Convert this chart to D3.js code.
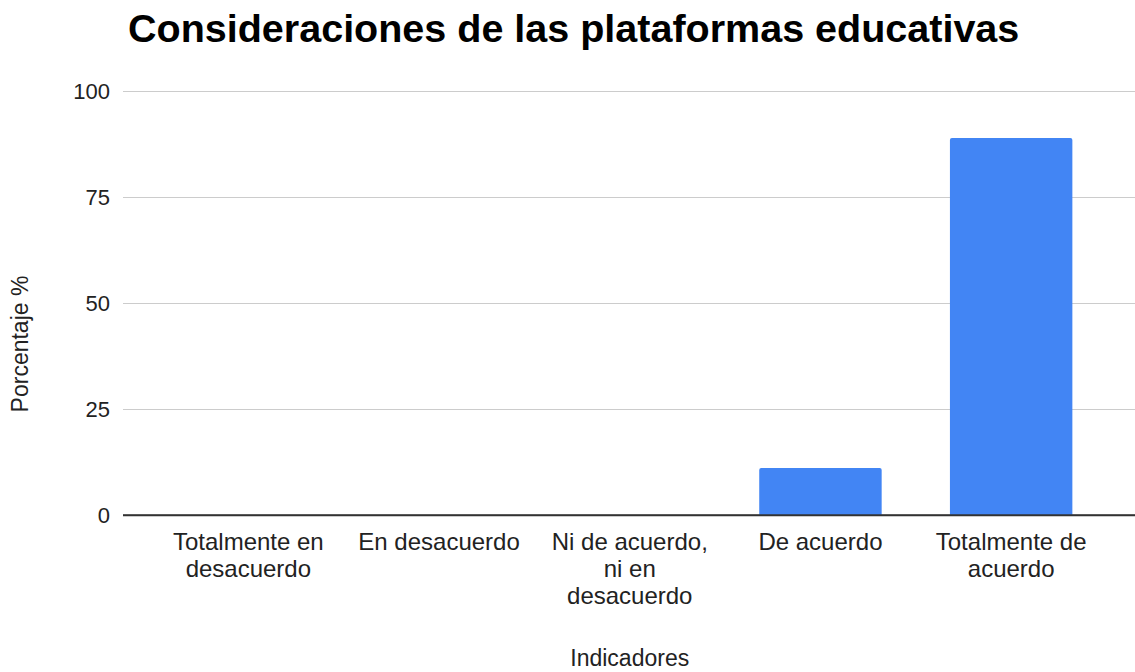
<!DOCTYPE html>
<html>
<head>
<meta charset="utf-8">
<script src="https://cdn.jsdelivr.net/npm/d3@7"></script>
<style>
  html, body { margin: 0; padding: 0; background: #ffffff; }
  svg { display: block; font-family: "Liberation Sans", Arial, sans-serif; }
</style>
</head>
<body>
<svg id="chart" width="1135" height="672"></svg>
<script>
// Survey results: share of answers per agreement level
const titleText = "Consideraciones de las plataformas educativas";
const categories = [
  "Totalmente en desacuerdo",
  "En desacuerdo",
  "Ni de acuerdo, ni en desacuerdo",
  "De acuerdo",
  "Totalmente de acuerdo"
];
const values = [0, 0, 0, 11.1, 88.9];
const yTicks = [0, 25, 50, 75, 100];
const xTitle = "Indicadores";
const yTitle = "Porcentaje %";

const svg = d3.select("#chart");
const W = 1135;

const gridLeft = 123, gridRight = W;
const x = d3.scaleBand()
  .domain(categories)
  .range([153, 1106.5])
  .paddingInner(0.358)
  .paddingOuter(0.179);
const y = d3.scaleLinear().domain([0, 100]).range([515, 91]);

// Title
svg.append("text")
  .attr("x", 128).attr("y", 42)
  .attr("font-size", 39.5).attr("font-weight", "bold")
  .attr("fill", "#000")
  .text(titleText);

// Horizontal gridlines + tick labels
const yAxis = d3.axisLeft(y).tickValues(yTicks).tickSize(0).tickPadding(0);
const gy = svg.append("g").attr("transform", `translate(${gridLeft},0)`).call(yAxis);
gy.select(".domain").remove();
gy.selectAll(".tick line")
  .attr("x2", gridRight - gridLeft)
  .attr("stroke", d => d === 0 ? "#333333" : "#cccccc")
  .attr("stroke-width", d => d === 0 ? 1.6 : 1.2);
gy.selectAll(".tick text")
  .attr("x", -13)
  .attr("font-size", 22)
  .attr("font-family", "Liberation Sans, Arial, sans-serif")
  .attr("fill", "#222");

// Bars with slightly rounded top corners
const r = 2;
function barPath(d, i) {
  const x0 = x(categories[i]), w = x.bandwidth();
  const yt = y(d), yb = y(0);
  if (yb - yt <= 0) return "";
  const rr = Math.min(r, (yb - yt) / 2);
  return `M${x0},${yb}V${yt + rr}Q${x0},${yt} ${x0 + rr},${yt}H${x0 + w - rr}Q${x0 + w},${yt} ${x0 + w},${yt + rr}V${yb}Z`;
}
svg.append("g").selectAll("path")
  .data(values)
  .join("path")
  .attr("d", barPath)
  .attr("fill", "#4285f4");

// redraw baseline above bars
svg.append("line")
  .attr("x1", gridLeft).attr("x2", gridRight)
  .attr("y1", y(0)).attr("y2", y(0))
  .attr("stroke", "#333333").attr("stroke-width", 1.6);

// Category labels, wrapped to fit the band
const catSize = 24, lineH = 27, maxW = 166;
const labels = svg.append("g").selectAll("text")
  .data(categories)
  .join("text")
  .attr("text-anchor", "middle")
  .attr("font-size", catSize)
  .attr("fill", "#222")
  .attr("x", d => x(d) + x.bandwidth() / 2)
  .attr("y", 550);

labels.each(function (d) {
  const t = d3.select(this);
  const cx = +t.attr("x");
  const words = d.split(" ");
  let line = [];
  let lines = [];
  const probe = t.append("tspan");
  words.forEach(w => {
    const test = line.concat(w).join(" ");
    probe.text(test);
    if (probe.node().getComputedTextLength() > maxW && line.length) {
      lines.push(line.join(" "));
      line = [w];
    } else {
      line.push(w);
    }
  });
  lines.push(line.join(" "));
  probe.remove();
  lines.forEach((ln, i) => {
    t.append("tspan").attr("x", cx).attr("dy", i === 0 ? 0 : lineH).text(ln);
  });
});

// Axis titles
svg.append("text")
  .attr("x", (x.range()[0] + x.range()[1]) / 2).attr("y", 666)
  .attr("text-anchor", "middle")
  .attr("font-size", 23).attr("fill", "#222")
  .text(xTitle);

svg.append("text")
  .attr("transform", "translate(28,344) rotate(-90)")
  .attr("text-anchor", "middle")
  .attr("font-size", 23).attr("fill", "#222")
  .text(yTitle);
</script>
</body>
</html>
